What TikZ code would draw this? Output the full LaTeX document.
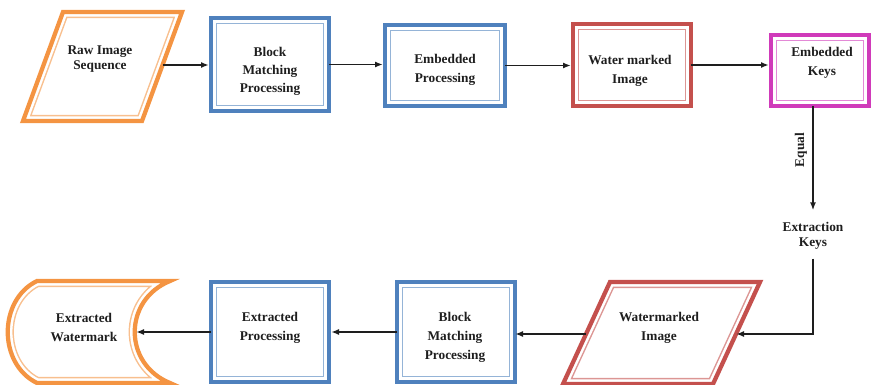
\documentclass[tikz,border=0pt]{standalone}
\usepackage{fontspec}
\setmainfont{Liberation Serif}
\usetikzlibrary{arrows.meta,calc}

\definecolor{orangeC}{RGB}{244,148,66}
\definecolor{blueC}{RGB}{79,129,189}
\definecolor{redC}{RGB}{196,80,77}
\definecolor{magC}{RGB}{208,58,186}
\definecolor{inkC}{RGB}{30,30,30}

% Double frame: thick outer line, white gap, thin light inner line
\newcommand\dframe[2]{%
  \begin{scope}
    \clip #2;
    \draw[#1!60, line width=9.2pt, line join=miter] #2;
    \draw[white, line width=7pt, line join=miter] #2;
  \end{scope}
  \draw[#1, line width=3.2pt, line join=miter] #2;
}

\begin{document}
\begin{tikzpicture}[x=0.75pt, y=-0.75pt,
  frame/.style={inner sep=0pt, outer sep=0pt},
  txt/.style={align=center, text=inkC, inner sep=0pt,
    font=\fontsize{10}{14.25}\selectfont\bfseries},
  tighttxt/.style={txt, font=\fontsize{10}{11.25}\selectfont\bfseries},
  arr/.style={draw=inkC, line width=1.3pt, shorten >=1.5pt,
    -{Latex[length=6pt,width=4.5pt]}}]
\useasboundingbox (0,0) rectangle (872,385);

% ---------- top row ----------
\coordinate (rawTL) at (63,12);  \coordinate (rawTR) at (182,12);
\coordinate (rawBR) at (142,121); \coordinate (rawBL) at (23,121);
\dframe{orangeC}{(rawTL) -- (rawTR) -- (rawBR) -- (rawBL) -- cycle}
\coordinate (rawR) at (162.6,65);
\node[tighttxt] (rawt) at (100,59.5) {Raw Image\\Sequence};

\node[frame, minimum width={118*0.75pt}, minimum height={93*0.75pt}] (bm1) at (270,64.5) {};
\dframe{blueC}{(bm1.north west) rectangle (bm1.south east)}
\node[txt, font=\fontsize{10}{13.5}\selectfont\bfseries] (bm1t) at (270,71) {Block\\Matching\\Processing};

\node[frame, minimum width={120*0.75pt}, minimum height={81*0.75pt}] (emb) at (445,65.5) {};
\dframe{blueC}{(emb.north west) rectangle (emb.south east)}
\node[txt] (embt) at (445,70) {Embedded\\Processing};

\node[frame, minimum width={118*0.75pt}, minimum height={82*0.75pt}] (wm) at (632,65) {};
\dframe{redC}{(wm.north west) rectangle (wm.south east)}
\node[txt] (wmt) at (630,70.5) {Water marked\\Image};

\node[frame, minimum width={98*0.75pt}, minimum height={71*0.75pt}] (keys) at (820,70.5) {};
\dframe{magC}{(keys.north west) rectangle (keys.south east)}
\node[txt] (keyst) at (822,62.5) {Embedded\\Keys};

% ---------- right column ----------
\node[tighttxt, inner sep=7pt] (ekeys) at (813,235.5) {Extraction\\Keys};
\node[txt, rotate=90] (equal) at (801,150) {Equal};

% ---------- bottom row ----------
\coordinate (wmiTL) at (610,282); \coordinate (wmiTR) at (760,282);
\coordinate (wmiBR) at (713,384); \coordinate (wmiBL) at (563,384);
\dframe{redC}{(wmiTL) -- (wmiTR) -- (wmiBR) -- (wmiBL) -- cycle}
\coordinate (wmiR) at (736,334);
\coordinate (wmiL) at (586,334);
\node[txt] (wmit) at (659,328) {Watermarked\\Image};

\node[frame, minimum width={118*0.75pt}, minimum height={100*0.75pt}] (bm2) at (456,332) {};
\dframe{blueC}{(bm2.north west) rectangle (bm2.south east)}
\node[txt] (bm2t) at (455,337.5) {Block\\Matching\\Processing};

\node[frame, minimum width={118*0.75pt}, minimum height={100*0.75pt}] (ep) at (270,332) {};
\dframe{blueC}{(ep.north west) rectangle (ep.south east)}
\node[txt] (ept) at (270,327.5) {Extracted\\Processing};

\dframe{orangeC}{(37,281) -- (170,281) .. controls (123,300) and (123,364) .. (170,383)
  -- (37,383) .. controls (-2,364) and (-2,300) .. cycle}
\coordinate (ewR) at (136,332);
\node[txt] (ewt) at (84,327.5) {Extracted\\Watermark};

% ---------- connectors ----------
\draw[arr] (rawR) -- (rawR -| bm1.west);
\draw[arr] (bm1.east) -- (bm1.east -| emb.west);
\draw[arr] (emb.east) -- (emb.east -| wm.west);
\draw[arr] (wm.east) -- (wm.east -| keys.west);
\draw[arr] (ekeys |- keys.south) -- (ekeys.north);
\draw[arr, shorten >=0pt] (ekeys.south) |- (wmiR);
\draw[arr, shorten >=0pt] (wmiL) -- (wmiL -| bm2.east);
\draw[arr] (bm2.west) -- (bm2.west -| ep.east);
\draw[arr, shorten >=0pt] (ep.west) -- (ep.west -| ewR);
\end{tikzpicture}
\end{document}
